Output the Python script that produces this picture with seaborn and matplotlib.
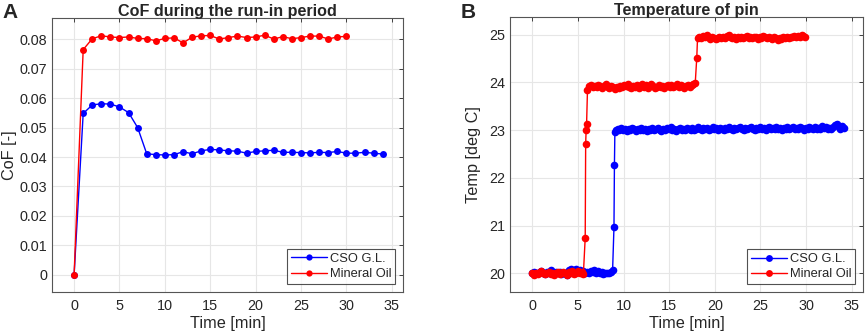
import numpy as np
import pandas as pd
import matplotlib
matplotlib.use("Agg")
import matplotlib.pyplot as plt
import seaborn as sns

# ---- Panel A: CoF during run-in ----
cof_time_cso = list(range(0, 35))
cof_cso = [0.0, 0.0548, 0.0577, 0.0581, 0.0580, 0.0570, 0.0551, 0.0500, 0.0411, 0.0408,
           0.0407, 0.0408, 0.0418, 0.0411, 0.0421, 0.0426, 0.0424, 0.0421, 0.0420, 0.0413,
           0.0419, 0.0421, 0.0423, 0.0416, 0.0416, 0.0415, 0.0414, 0.0416, 0.0415, 0.0419,
           0.0413, 0.0413, 0.0416, 0.0413, 0.0410]
cof_time_oil = list(range(0, 31))
cof_oil = [0.0, 0.0765, 0.0802, 0.0812, 0.0808, 0.0806, 0.0808, 0.0803, 0.0802, 0.0795,
           0.0803, 0.0805, 0.0788, 0.0807, 0.0812, 0.0813, 0.0801, 0.0806, 0.0811, 0.0806,
           0.0808, 0.0814, 0.0801, 0.0809, 0.0802, 0.0806, 0.0811, 0.0811, 0.0801, 0.0808,
           0.0810]

# ---- Panel B: pin temperature (plateaus sampled every 0.2 min + step points) ----
dt = 0.2
cso_p1_start = 0.0
cso_p1 = [20.01, 20.04, 20.02, 20.00, 20.03, 20.05, 20.02, 19.99, 20.03, 20.01,
          20.08, 20.02, 20.00, 20.03, 20.01, 20.04, 19.98, 20.02, 20.00, 19.97,
          20.08, 20.09, 20.04, 20.07, 20.10, 20.05, 20.08, 20.03, 20.06, 20.02,
          20.04, 20.01, 20.06, 20.03, 20.07, 20.02, 20.05, 20.01, 20.03, 19.99,
          20.02, 20.00, 20.01, 20.03, 20.07]
cso_step_t = [8.95, 9.0, 9.05]
cso_step = [20.97, 22.27, 22.97]
cso_p2_start = 9.15
cso_p2 = [23.00, 23.03, 23.01, 23.04, 23.00, 23.02, 22.99, 23.03, 23.01, 23.05,
          23.02, 22.98, 23.03, 23.00, 23.04, 23.01, 23.02, 22.98, 23.03, 23.01,
          23.04, 23.00, 23.02, 23.05, 23.01, 22.99, 23.03, 23.00, 23.04, 23.02,
          23.06, 23.01, 23.03, 22.99, 23.02, 23.04, 23.00, 23.03, 23.01, 23.05,
          23.02, 23.00, 23.04, 23.01, 23.03, 23.06, 23.02, 23.00, 23.04, 23.02,
          23.05, 23.01, 23.03, 23.06, 23.02, 23.04, 23.01, 23.05, 23.03, 23.00,
          23.04, 23.02, 23.06, 23.03, 23.01, 23.05, 23.02, 23.04, 23.07, 23.03,
          23.01, 23.05, 23.02, 23.04, 23.06, 23.03, 23.01, 23.04, 23.02, 23.06,
          23.03, 23.05, 23.01, 23.04, 23.07, 23.02, 23.05, 23.03, 23.06, 23.02,
          23.04, 23.01, 23.05, 23.03, 23.06, 23.02, 23.04, 23.07, 23.03, 23.05,
          23.02, 23.06, 23.04, 23.01, 23.05, 23.03, 23.07, 23.04, 23.02, 23.06,
          23.03, 23.05, 23.02, 23.08, 23.04, 23.06, 23.03, 23.05, 23.02, 23.07,
          23.10, 23.12, 23.06, 23.03, 23.08, 23.04]

oil_p1_start = 0.0
oil_p1 = [20.00, 19.97, 20.02, 19.99, 20.03, 20.06, 20.01, 19.98, 20.02, 20.04,
          19.99, 20.01, 19.97, 20.00, 20.03, 19.98, 20.02, 20.04, 20.00, 19.97,
          20.03, 20.01, 20.05, 19.99, 20.02, 20.06, 20.00, 20.03, 19.99]
oil_step1_t = [5.8, 5.85, 5.9, 5.95]
oil_step1 = [20.75, 22.72, 23.00, 23.13]
oil_p2_start = 6.05
oil_p2 = [23.85, 23.92, 23.94, 23.91, 23.93, 23.90, 23.95, 23.92, 23.89, 23.93,
          23.96, 23.91, 23.88, 23.92, 23.90, 23.87, 23.91, 23.89, 23.93, 23.90,
          23.95, 23.92, 23.97, 23.91, 23.88, 23.93, 23.90, 23.94, 23.89, 23.92,
          23.96, 23.91, 23.94, 23.89, 23.93, 23.97, 23.92, 23.88, 23.91, 23.95,
          23.90, 23.93, 23.89, 23.92, 23.95, 23.91, 23.94, 23.90, 23.93, 23.96,
          23.91, 23.94, 23.92, 23.89, 23.93, 23.95, 23.91, 23.94, 23.96, 23.98]
oil_step2_t = [18.02]
oil_step2 = [24.52]
oil_p3_start = 18.1
oil_p3 = [24.92, 24.95, 24.93, 24.97, 24.94, 24.99, 24.95, 24.91, 24.94, 24.92,
          24.90, 24.93, 24.96, 24.92, 24.95, 24.93, 24.97, 25.00, 24.95, 24.92,
          24.94, 24.91, 24.95, 24.93, 24.96, 24.92, 24.94, 24.97, 24.93, 24.95,
          24.92, 24.96, 24.94, 24.91, 24.95, 24.93, 24.97, 24.94, 24.92, 24.96,
          24.93, 24.90, 24.94, 24.92, 24.89, 24.93, 24.91, 24.94, 24.92, 24.95,
          24.93, 24.96, 24.94, 24.97, 24.95, 24.98, 24.96, 24.99, 24.97, 24.96]


def plateau_times(start, vals):
    return list(start + dt * np.arange(len(vals)))


temp_time_cso = plateau_times(cso_p1_start, cso_p1) + cso_step_t + plateau_times(cso_p2_start, cso_p2)
temp_cso = cso_p1 + cso_step + cso_p2
temp_time_oil = (plateau_times(oil_p1_start, oil_p1) + oil_step1_t + plateau_times(oil_p2_start, oil_p2)
                 + oil_step2_t + plateau_times(oil_p3_start, oil_p3))
temp_oil = oil_p1 + oil_step1 + oil_p2 + oil_step2 + oil_p3

sns.set_style("white")
plt.rcParams["font.family"] = ["Liberation Sans", "DejaVu Sans"]

fig = plt.figure(figsize=(8.65, 3.35), dpi=100)
axA = fig.add_axes([0.0605, 0.129, 0.405, 0.816])
axB = fig.add_axes([0.590, 0.128, 0.4074, 0.820])

line_kw = dict(markeredgewidth=0, linewidth=1.0, estimator=None, sort=False)

sns.lineplot(x=cof_time_cso, y=cof_cso, color="#0000ff", label="CSO G.L.", ax=axA,
             marker="o", markersize=5, **line_kw)
sns.lineplot(x=cof_time_oil, y=cof_oil, color="#ff0000", label="Mineral Oil", ax=axA,
             marker="o", markersize=5, **line_kw)
sns.lineplot(x=temp_time_cso, y=temp_cso, color="#0000ff", label="CSO G.L.", ax=axB,
             marker="o", markersize=5.5, **line_kw)
sns.lineplot(x=temp_time_oil, y=temp_oil, color="#ff0000", label="Mineral Oil", ax=axB,
             marker="o", markersize=5.5, **line_kw)

dark = "#262626"
for ax in (axA, axB):
    ax.set_xlim(-2.4, 36.2)
    ax.set_xticks(range(0, 36, 5))
    ax.grid(True, color="#e6e6e6", linewidth=0.8)
    ax.set_axisbelow(True)
    for s in ax.spines.values():
        s.set_visible(True)
        s.set_color("#555555")
        s.set_linewidth(0.8)
    ax.tick_params(direction="in", length=3, width=0.6, top=True, right=True,
                   labelsize=10.4, colors=dark, pad=5)
    ax.tick_params(axis="y", pad=3.5)
    ax.set_xlabel("Time [min]", fontsize=11.7, color=dark, labelpad=2)
    leg = ax.legend(loc="lower right", fontsize=9.3, frameon=True, fancybox=False,
                    borderpad=0.3, handlelength=2.8, handletextpad=0.2, labelspacing=0.25,
                    borderaxespad=0.6, markerscale=0.9)
    leg.get_frame().set_edgecolor(dark)
    leg.get_frame().set_linewidth(0.8)

axA.set_ylim(-0.0058, 0.0871)
axA.set_yticks([0, 0.01, 0.02, 0.03, 0.04, 0.05, 0.06, 0.07, 0.08])
axA.set_yticklabels(["0", "0.01", "0.02", "0.03", "0.04", "0.05", "0.06", "0.07", "0.08"])
axA.set_ylabel("CoF [-]", fontsize=11.7, color=dark, labelpad=2)
axA.set_title("CoF during the run-in period", fontsize=11.6, fontweight="bold", pad=2)

axB.set_ylim(19.61, 25.36)
axB.set_yticks(range(20, 26))
axB.set_ylabel("Temp [deg C]", fontsize=11.7, color=dark, labelpad=6)
axB.set_title("Temperature of pin", fontsize=11.6, fontweight="bold", pad=2)

fig.text(0.003, 0.992, "A", fontsize=15, fontweight="bold", va="top", ha="left")
fig.text(0.532, 0.992, "B", fontsize=15, fontweight="bold", va="top", ha="left")

fig.savefig("out.png", dpi=100)
